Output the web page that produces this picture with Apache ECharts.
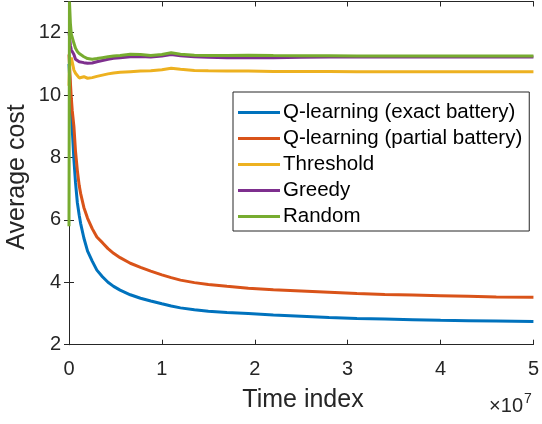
<!DOCTYPE html>
<html>
<head>
<meta charset="utf-8">
<script src="https://cdn.jsdelivr.net/npm/echarts@6/dist/echarts.min.js"></script>
<style>
  html, body { margin: 0; padding: 0; background: #fff; }
  #chart { width: 542px; height: 424px; }
</style>
</head>
<body>
<div id="chart"></div>
<script>
// Time index, in units of 1e7
const timeIdx = [0, 0.005, 0.015, 0.025, 0.035, 0.053, 0.07, 0.09, 0.11, 0.125, 0.16, 0.2, 0.25, 0.3, 0.36, 0.42, 0.48, 0.55, 0.66, 0.77, 0.88, 1.0, 1.1, 1.2, 1.35, 1.5, 1.7, 1.93, 2.2, 2.5, 2.8, 3.1, 3.4, 3.7, 4.0, 4.3, 4.6, 5.0];

const seriesNames = ['Q-learning (exact battery)', 'Q-learning (partial battery)', 'Threshold', 'Greedy', 'Random'];

const qExact = [11.0, 10.7, 10.1, 9.52, 8.9, 7.92, 7.2, 6.55, 6.15, 5.89, 5.42, 5.0, 4.68, 4.39, 4.18, 4.0, 3.87, 3.75, 3.6, 3.49, 3.40, 3.31, 3.24, 3.18, 3.12, 3.07, 3.03, 3.0, 2.95, 2.91, 2.87, 2.84, 2.82, 2.80, 2.78, 2.77, 2.76, 2.74];

const qPartial = [11.3, 11.0, 10.4, 9.9, 9.5, 8.99, 8.2, 7.58, 7.1, 6.85, 6.4, 6.05, 5.72, 5.45, 5.27, 5.08, 4.93, 4.79, 4.61, 4.48, 4.36, 4.24, 4.15, 4.07, 3.99, 3.93, 3.87, 3.81, 3.76, 3.72, 3.68, 3.64, 3.61, 3.59, 3.57, 3.55, 3.53, 3.52];

const threshold = [10.3, 10.9, 11.1, 11.2, 11.23, 10.8, 10.7, 10.64, 10.55, 10.5, 10.59, 10.54, 10.56, 10.6, 10.64, 10.68, 10.71, 10.73, 10.75, 10.77, 10.78, 10.81, 10.86, 10.83, 10.79, 10.78, 10.77, 10.77, 10.76, 10.76, 10.76, 10.75, 10.75, 10.75, 10.75, 10.75, 10.75, 10.75];

const greedy = [12.0, 11.9, 11.6, 11.45, 11.4, 11.3, 11.15, 11.1, 11.07, 11.05, 11.04, 11.02, 11.03, 11.07, 11.11, 11.15, 11.18, 11.2, 11.23, 11.24, 11.22, 11.25, 11.3, 11.26, 11.23, 11.21, 11.2, 11.2, 11.2, 11.21, 11.22, 11.22, 11.22, 11.22, 11.22, 11.22, 11.22, 11.22];

const randomPol = [5.8, 13.0, 12.3, 11.95, 11.85, 11.66, 11.5, 11.4, 11.33, 11.28, 11.23, 11.17, 11.15, 11.17, 11.2, 11.23, 11.25, 11.27, 11.31, 11.3, 11.27, 11.3, 11.36, 11.31, 11.28, 11.27, 11.27, 11.28, 11.27, 11.26, 11.26, 11.25, 11.25, 11.25, 11.25, 11.25, 11.25, 11.25];

const xTicks = [0, 1, 2, 3, 4, 5];
const yTicks = [2, 4, 6, 8, 10, 12];

const colors = ['#0072BD', '#D95319', '#EDB120', '#7E2F8E', '#77AC30'];
const FONT = '"Liberation Sans", Arial, Helvetica, sans-serif';
const AX = '#262626';

const allData = [qExact, qPartial, threshold, greedy, randomPol];

const chart = echarts.init(document.getElementById('chart'), null, { renderer: 'canvas' });

function pairs(arr) { return timeIdx.map((t, i) => [t, arr[i]]); }

const baseX = {
  type: 'value', min: xTicks[0], max: xTicks[xTicks.length - 1], interval: 1,
  splitLine: { show: false },
  axisLine: { show: true, lineStyle: { color: AX, width: 1 } },
  axisTick: { show: true, inside: true, length: 5, lineStyle: { color: AX } }
};
const baseY = {
  type: 'value', min: 2, max: 13, interval: 2,
  splitLine: { show: false },
  axisLine: { show: true, lineStyle: { color: AX, width: 1 } },
  axisTick: { show: true, inside: true, length: 5, lineStyle: { color: AX } }
};

const option = {
  animation: false,
  backgroundColor: '#ffffff',
  grid: { left: 69, right: 5, top: 1.5, bottom: 79.3, containLabel: false },
  xAxis: [
    Object.assign({}, baseX, {
      position: 'bottom',
      axisLabel: { show: true, margin: 15, fontSize: 20, color: AX, fontFamily: FONT,
                   formatter: v => String(v) }
    }),
    Object.assign({}, baseX, { position: 'top', axisLabel: { show: false } })
  ],
  yAxis: [
    Object.assign({}, baseY, {
      position: 'left',
      axisLabel: { show: true, margin: 8, fontSize: 20, color: AX, fontFamily: FONT, showMaxLabel: false,
                   formatter: v => (yTicks.indexOf(v) >= 0 ? String(v) : '') }
    }),
    Object.assign({}, baseY, { position: 'right', axisLabel: { show: false } })
  ],
  legend: {
    orient: 'vertical',
    left: 233, top: 92,
    padding: [10, 7, 4, 5],
    itemGap: 5,
    itemWidth: 42,
    itemHeight: 3,
    icon: 'rect',
    backgroundColor: '#ffffff',
    borderColor: AX,
    borderWidth: 1,
    borderRadius: 0,
    textStyle: { fontSize: 20.5, color: '#000000', fontFamily: FONT, padding: [0, 0, 0, -2] },
    data: seriesNames
  },
  series: seriesNames.map((name, i) => ({
    name: name,
    type: 'line',
    xAxisIndex: 0, yAxisIndex: 0,
    data: pairs(allData[i]),
    showSymbol: false,
    symbol: 'none',
    clip: false,
    lineStyle: { color: colors[i], width: 3 },
    itemStyle: { color: colors[i] },
    emphasis: { disabled: true }
  })),
  graphic: [
    { type: 'text', style: { text: 'Time index', x: 303, y: 400, align: 'center', verticalAlign: 'middle',
        font: '25px ' + FONT, fill: AX } },
    { type: 'text', rotation: Math.PI / 2, x: 17, y: 177,
      style: { text: 'Average cost', x: 0, y: 0, align: 'center', verticalAlign: 'middle',
        font: '25px ' + FONT, fill: AX } },
    { type: 'text', style: { text: '\u00d710', x: 523, y: 406, align: 'right', verticalAlign: 'middle',
        font: '20px ' + FONT, fill: AX } },
    { type: 'text', style: { text: '7', x: 524, y: 399, align: 'left', verticalAlign: 'middle',
        font: '14px ' + FONT, fill: AX } }
  ]
};

chart.setOption(option);
</script>
</body>
</html>
